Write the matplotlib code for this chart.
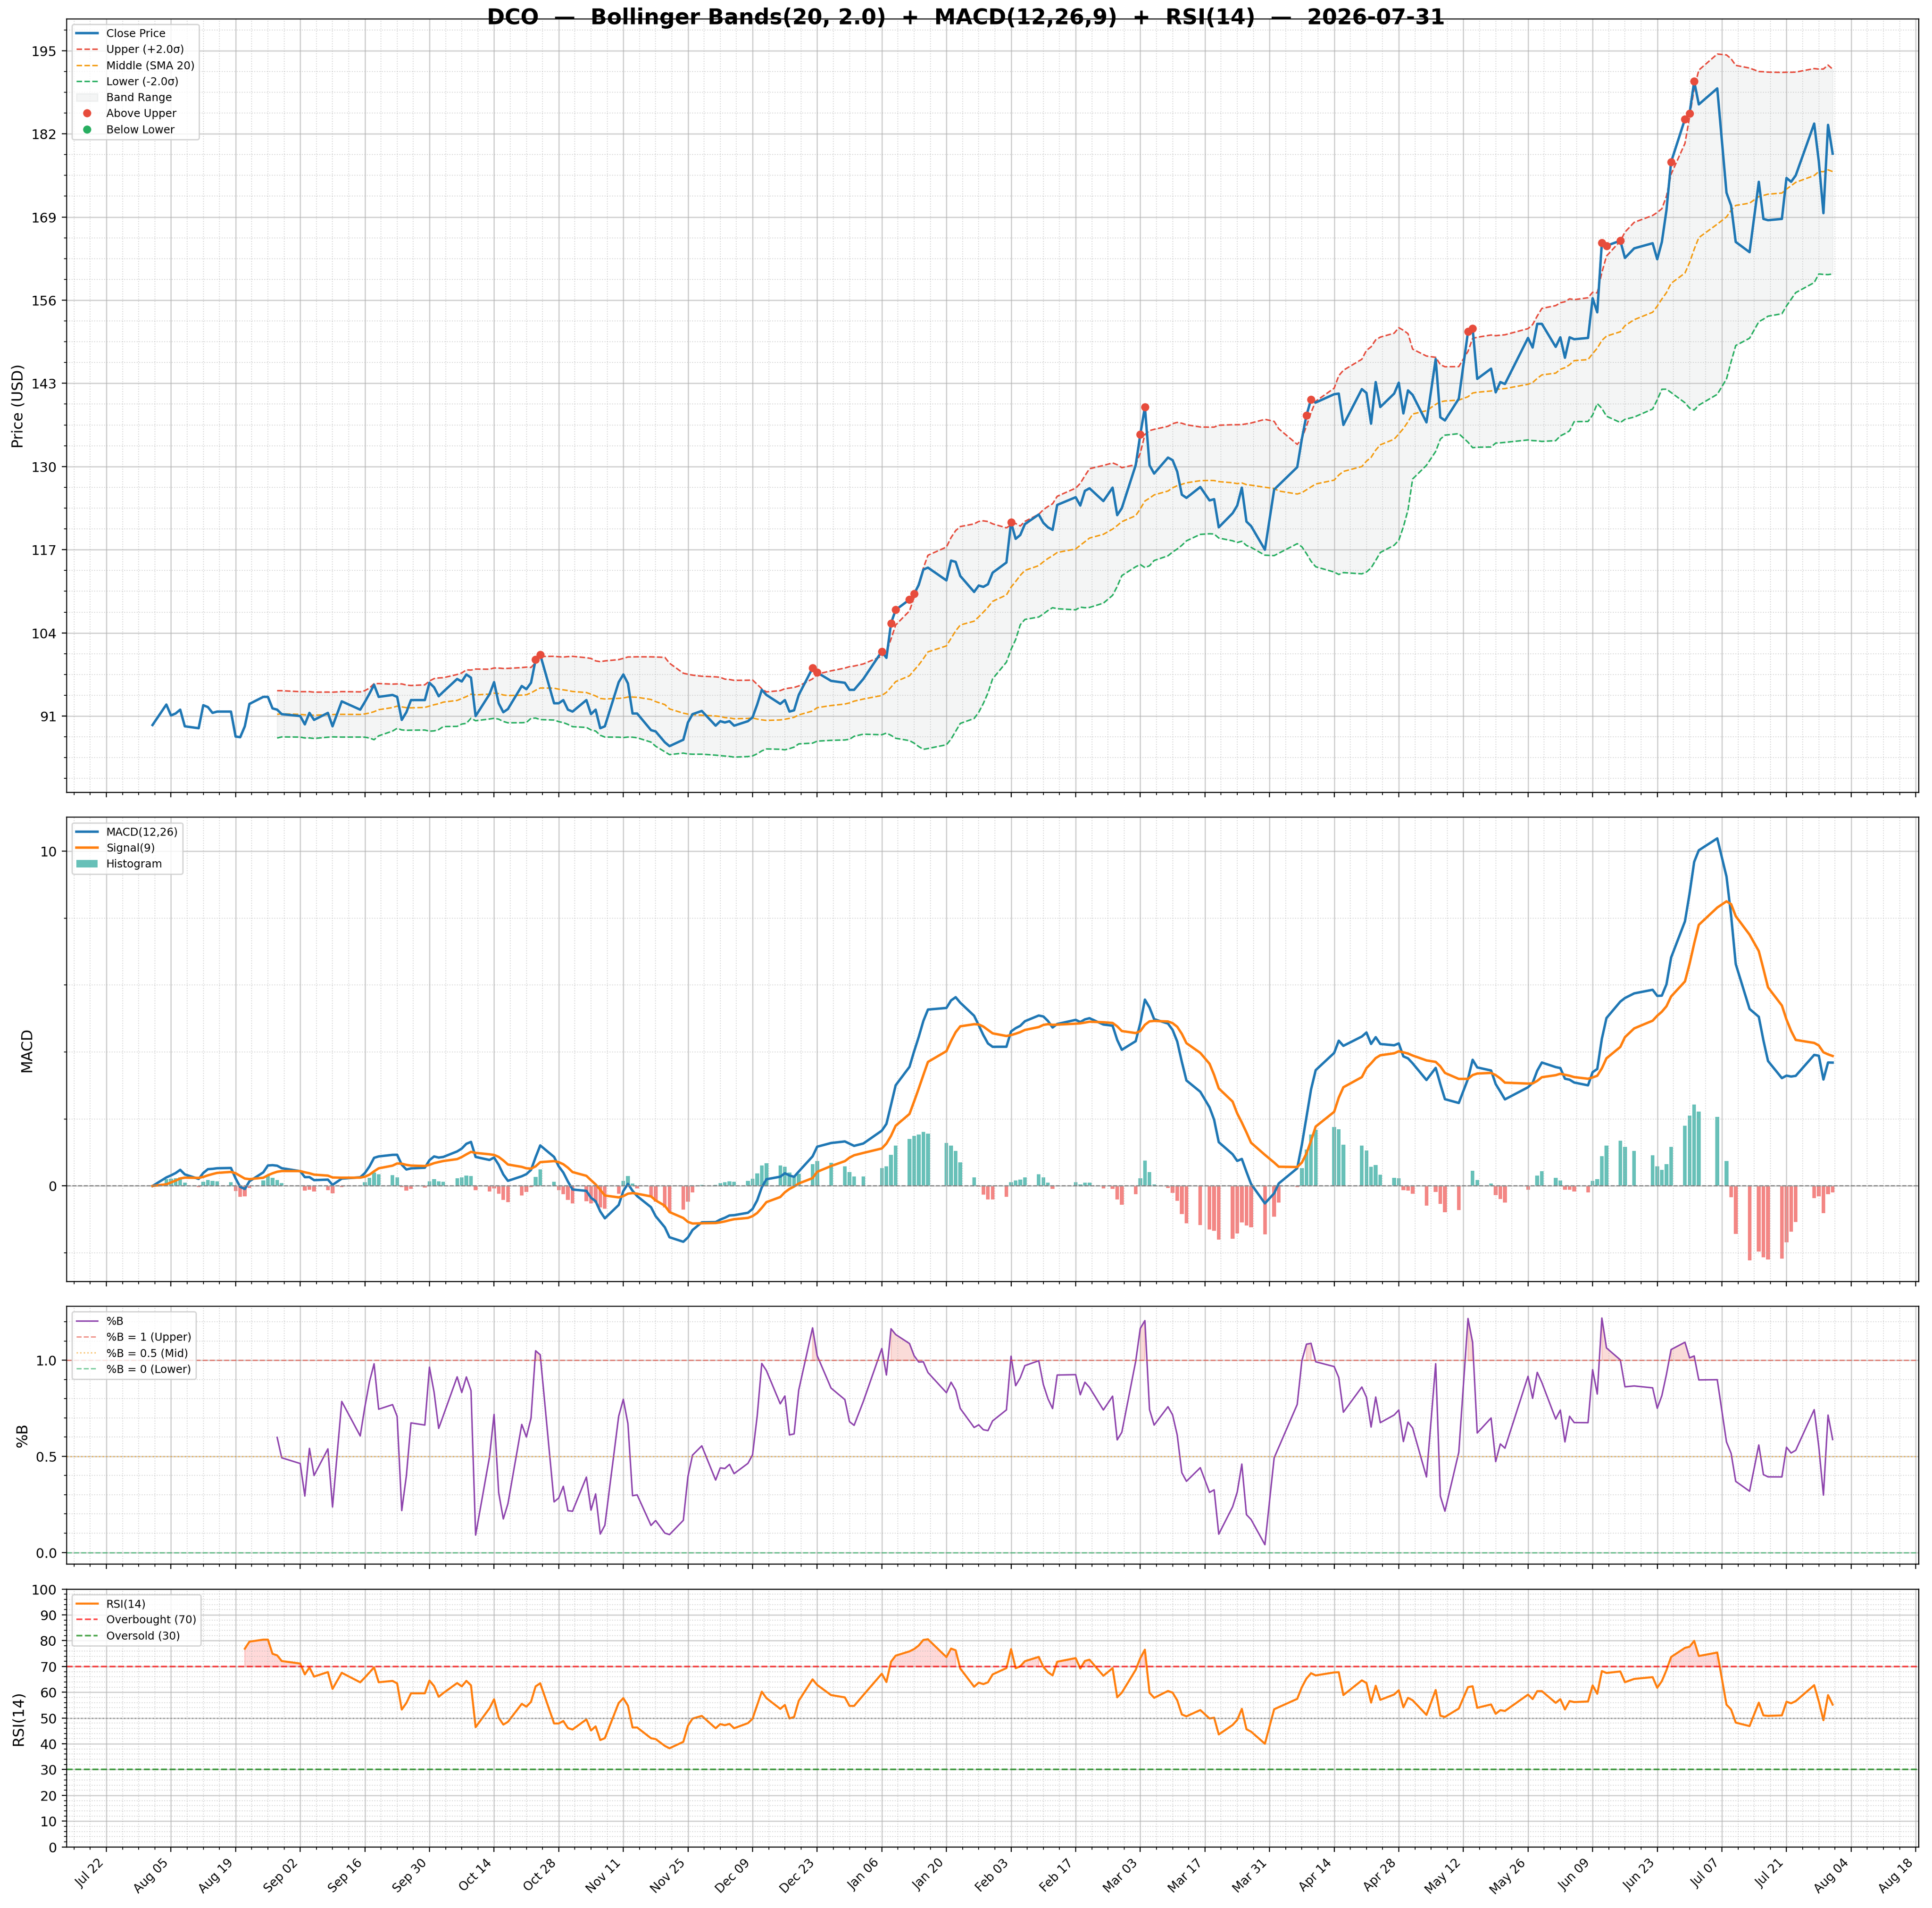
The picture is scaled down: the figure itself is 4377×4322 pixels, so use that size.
import numpy as np
import pandas as pd
import matplotlib
matplotlib.use("Agg")
import matplotlib.pyplot as plt
import matplotlib.dates as mdates
from matplotlib.ticker import AutoMinorLocator

ticker = "DCO"
as_of = "2026-07-31"

# trading days (gaps = days with no print)
dates = [
    "2025-08-01", "2025-08-04", "2025-08-05", "2025-08-06", "2025-08-07", "2025-08-08", "2025-08-11", "2025-08-12",
    "2025-08-13", "2025-08-14", "2025-08-15", "2025-08-18", "2025-08-19", "2025-08-20", "2025-08-21", "2025-08-22",
    "2025-08-25", "2025-08-26", "2025-08-27", "2025-08-28", "2025-08-29",
    "2025-09-02", "2025-09-03", "2025-09-04", "2025-09-05", "2025-09-08", "2025-09-09", "2025-09-11", "2025-09-15",
    "2025-09-16", "2025-09-17", "2025-09-18", "2025-09-19", "2025-09-22", "2025-09-23", "2025-09-24", "2025-09-25",
    "2025-09-26", "2025-09-29", "2025-09-30",
    "2025-10-01", "2025-10-02", "2025-10-03", "2025-10-06", "2025-10-07", "2025-10-08", "2025-10-09", "2025-10-10",
    "2025-10-13", "2025-10-14", "2025-10-15", "2025-10-16", "2025-10-17", "2025-10-20", "2025-10-21", "2025-10-22",
    "2025-10-23", "2025-10-24", "2025-10-27", "2025-10-28", "2025-10-29", "2025-10-30", "2025-10-31",
    "2025-11-03", "2025-11-04", "2025-11-05", "2025-11-06", "2025-11-07", "2025-11-10", "2025-11-11", "2025-11-12",
    "2025-11-13", "2025-11-14", "2025-11-17", "2025-11-18", "2025-11-20", "2025-11-21", "2025-11-24", "2025-11-25",
    "2025-11-26", "2025-11-28",
    "2025-12-01", "2025-12-02", "2025-12-03", "2025-12-04", "2025-12-05", "2025-12-08", "2025-12-09", "2025-12-10",
    "2025-12-11", "2025-12-12", "2025-12-15", "2025-12-16", "2025-12-17", "2025-12-18", "2025-12-19", "2025-12-22",
    "2025-12-23", "2025-12-26", "2025-12-29", "2025-12-30", "2025-12-31",
    "2026-01-02", "2026-01-06", "2026-01-07", "2026-01-08", "2026-01-09", "2026-01-12", "2026-01-13", "2026-01-14",
    "2026-01-15", "2026-01-16", "2026-01-20", "2026-01-21", "2026-01-22", "2026-01-23", "2026-01-26", "2026-01-27",
    "2026-01-28", "2026-01-29", "2026-01-30",
    "2026-02-02", "2026-02-03", "2026-02-04", "2026-02-05", "2026-02-06", "2026-02-09", "2026-02-10", "2026-02-11",
    "2026-02-12", "2026-02-13", "2026-02-17", "2026-02-18", "2026-02-19", "2026-02-20", "2026-02-23", "2026-02-25",
    "2026-02-26", "2026-02-27",
    "2026-03-02", "2026-03-03", "2026-03-04", "2026-03-05", "2026-03-06", "2026-03-09", "2026-03-10", "2026-03-11",
    "2026-03-12", "2026-03-13", "2026-03-16", "2026-03-18", "2026-03-19", "2026-03-20", "2026-03-23", "2026-03-24",
    "2026-03-25", "2026-03-26", "2026-03-27", "2026-03-30",
    "2026-04-01", "2026-04-02", "2026-04-06", "2026-04-07", "2026-04-08", "2026-04-09", "2026-04-10", "2026-04-14",
    "2026-04-15", "2026-04-16", "2026-04-20", "2026-04-21", "2026-04-22", "2026-04-23", "2026-04-24", "2026-04-27",
    "2026-04-28", "2026-04-29", "2026-04-30",
    "2026-05-01", "2026-05-04", "2026-05-06", "2026-05-07", "2026-05-08", "2026-05-11", "2026-05-13", "2026-05-14",
    "2026-05-15", "2026-05-18", "2026-05-19", "2026-05-20", "2026-05-21", "2026-05-26", "2026-05-27", "2026-05-28",
    "2026-05-29",
    "2026-06-01", "2026-06-02", "2026-06-03", "2026-06-04", "2026-06-05", "2026-06-08", "2026-06-09", "2026-06-10",
    "2026-06-11", "2026-06-12", "2026-06-15", "2026-06-16", "2026-06-18", "2026-06-22", "2026-06-23", "2026-06-24",
    "2026-06-25", "2026-06-26", "2026-06-29", "2026-06-30",
    "2026-07-01", "2026-07-02", "2026-07-06", "2026-07-08", "2026-07-09", "2026-07-10", "2026-07-13", "2026-07-15",
    "2026-07-16", "2026-07-17", "2026-07-20", "2026-07-21", "2026-07-22", "2026-07-23", "2026-07-27", "2026-07-28",
    "2026-07-29", "2026-07-30", "2026-07-31",
]

close = [
    89.6, 92.8, 91.1, 91.4, 92.0, 89.4, 89.1, 92.7, 92.4, 91.5, 91.7, 91.7, 87.8, 87.7, 89.4, 92.9,
    94.0, 94.0, 92.2, 92.0, 91.3,
    91.0, 89.7, 91.5, 90.4, 91.5, 89.4, 93.3, 92.0, 93.2, 94.5, 95.9, 94.0, 94.3, 94.0, 90.4, 91.6,
    93.5, 93.5, 96.2,
    95.5, 94.1, 94.8, 96.8, 96.4, 97.5, 97.0, 91.0, 94.4, 96.3, 93.0, 91.6, 92.1, 95.7, 95.2, 96.2,
    99.8, 100.6, 93.0, 93.0, 93.5, 92.0, 91.7,
    93.5, 91.3, 92.0, 89.1, 89.4, 96.3, 97.5, 96.1, 91.4, 91.4, 88.8, 88.6, 86.9, 86.3, 87.3, 90.0,
    91.3, 91.8,
    89.5, 90.2, 90.0, 90.2, 89.5, 90.2, 90.8, 92.8, 95.1, 94.3, 92.9, 93.5, 91.7, 91.9, 94.3, 98.5,
    97.8, 96.5, 96.2, 95.1, 95.1,
    96.8, 101.1, 100.1, 105.5, 107.6, 109.2, 110.1, 111.5, 113.9, 114.2, 112.2, 115.3, 115.1, 112.9, 110.4, 111.4,
    111.2, 111.6, 113.4,
    115.0, 121.3, 118.7, 119.3, 121.0, 122.5, 121.2, 120.5, 120.1, 124.0, 125.2, 123.9, 126.2, 126.6, 124.6, 126.7,
    122.4, 123.5,
    130.2, 135.0, 139.3, 130.2, 128.9, 131.4, 131.0, 129.2, 125.6, 125.1, 126.8, 124.7, 124.9, 120.5, 122.7, 123.9,
    126.7, 121.4, 120.7, 117.0,
    126.4, 127.1, 129.9, 134.3, 138.0, 140.5, 140.0, 141.3, 141.4, 136.5, 142.1, 141.5, 136.7, 143.2, 139.3, 141.4,
    143.1, 138.3, 141.9,
    141.2, 136.9, 146.8, 137.7, 137.2, 140.6, 151.1, 151.6, 143.7, 145.3, 141.6, 143.2, 142.9, 150.1, 148.6, 152.3,
    152.3,
    148.7, 150.2, 147.0, 150.2, 149.9, 150.1, 156.3, 154.1, 165.0, 164.5, 165.3, 162.6, 164.1, 164.9, 162.4, 165.1,
    170.1, 177.6, 184.3, 185.2,
    190.2, 186.6, 189.1, 172.8, 170.8, 165.1, 163.5, 174.5, 168.7, 168.5, 168.7, 175.1, 174.5, 175.5, 183.6, 177.7,
    169.6, 183.4, 178.9,
]

# ---- indicators ----
px = pd.Series(close, index=pd.to_datetime(dates))
x = px.index

mid = px.rolling(20).mean()
sd = px.rolling(20).std()
upper = mid + 2.0 * sd
lower = mid - 2.0 * sd
pct_b = (px - lower) / (upper - lower)

ema12 = px.ewm(span=12, adjust=False).mean()
ema26 = px.ewm(span=26, adjust=False).mean()
macd = ema12 - ema26
signal = macd.ewm(span=9, adjust=False).mean()
hist = macd - signal

# Wilder smoothing
delta = px.diff()
gain = delta.clip(lower=0).ewm(alpha=1 / 14, adjust=False, min_periods=14).mean()
loss = (-delta.clip(upper=0)).ewm(alpha=1 / 14, adjust=False, min_periods=14).mean()
rsi = 100 - 100 / (1 + gain / loss)

above = px > upper
below = px < lower

# ---- figure ----
DPI = 220
fig, axes = plt.subplots(4, 1, figsize=(4377.5 / DPI, 4322.5 / DPI), sharex=True,
                         gridspec_kw={"height_ratios": [3, 1.8, 1, 1], "hspace": 0.057})
fig.subplots_adjust(left=0.0344, right=0.993, top=0.990, bottom=0.032)
ax1, ax2, ax3, ax4 = axes

# price + bands
ax1.plot(x, px, color="#1f77b4", lw=1.8, label="Close Price", zorder=3)
ax1.plot(x, upper, color="#e74c3c", ls="--", lw=1.1, label="Upper (+2.0σ)")
ax1.plot(x, mid, color="#f39c12", ls="--", lw=1.1, label="Middle (SMA 20)")
ax1.plot(x, lower, color="#27ae60", ls="--", lw=1.1, label="Lower (-2.0σ)")
ax1.fill_between(x, lower, upper, color="#95a5a6", alpha=0.1, label="Band Range")
ax1.plot(x[above], px[above], "o", color="#e74c3c", ms=5, ls="none", label="Above Upper", zorder=5)
ax1.plot(x[below], px[below], "o", color="#27ae60", ms=5, ls="none", label="Below Lower", zorder=5)
ax1.set_yticks(np.arange(91, 196, 13))
ax1.set_ylabel("Price (USD)", fontsize=11)
ax1.legend(loc="upper left", fontsize=8, framealpha=0.8)

# MACD
bar_colors = np.where(hist >= 0, "#26a69a", "#ef5350")
ax2.plot(x, macd, color="#1f77b4", lw=1.8, label="MACD(12,26)")
ax2.plot(x, signal, color="#ff7f0e", lw=1.8, label="Signal(9)")
ax2.bar(x, hist, width=0.8, color=bar_colors, alpha=0.7, label="Histogram")
ax2.axhline(0, color="gray", ls="--", lw=0.8)
ax2.set_yticks([0, 10])
ax2.set_ylabel("MACD", fontsize=11)
ax2.legend(loc="upper left", fontsize=8, framealpha=0.8)

# %B
ax3.plot(x, pct_b, color="#8e44ad", lw=1.1, label="%B")
ax3.axhline(1.0, color="#e74c3c", ls="--", lw=1, alpha=0.6, label="%B = 1 (Upper)")
ax3.axhline(0.5, color="#f39c12", ls=":", lw=1, alpha=0.6, label="%B = 0.5 (Mid)")
ax3.axhline(0.0, color="#27ae60", ls="--", lw=1, alpha=0.6, label="%B = 0 (Lower)")
ax3.fill_between(x, pct_b, 1.0, where=pct_b > 1.0, color="#e74c3c", alpha=0.2)
ax3.fill_between(x, pct_b, 0.0, where=pct_b < 0.0, color="#27ae60", alpha=0.2)
ax3.set_yticks([0.0, 0.5, 1.0])
ax3.set_ylabel("%B", fontsize=11)
ax3.legend(loc="upper left", fontsize=8, framealpha=0.8)

# RSI
ax4.plot(x, rsi, color="#ff7f0e", lw=1.5, label="RSI(14)")
ax4.axhline(70, color="red", ls="--", lw=1.2, alpha=0.7, label="Overbought (70)")
ax4.axhline(30, color="green", ls="--", lw=1.2, alpha=0.7, label="Oversold (30)")
ax4.axhline(50, color="gray", ls=":", lw=1, alpha=0.7)
ax4.fill_between(x, rsi, 70, where=rsi > 70, color="red", alpha=0.15)
ax4.fill_between(x, rsi, 30, where=rsi < 30, color="green", alpha=0.15)
ax4.set_ylim(0, 100)
ax4.set_yticks(np.arange(0, 101, 10))
ax4.set_ylabel("RSI(14)", fontsize=11)
ax4.legend(loc="upper left", fontsize=8, framealpha=0.8)

xt = pd.date_range("2025-07-22", "2026-08-18", freq="14D")
for ax in axes:
    ax.set_xticks(xt)
    ax.xaxis.set_minor_locator(AutoMinorLocator())
    ax.yaxis.set_minor_locator(AutoMinorLocator())
    ax.grid(True, which="major", color="#b0b0b0", alpha=0.6, lw=0.9)
    ax.grid(True, which="minor", ls=":", color="#b0b0b0", alpha=0.5, lw=0.7)
    ax.tick_params(labelsize=10)
ax4.xaxis.set_major_formatter(mdates.DateFormatter("%b %d"))
plt.setp(ax4.get_xticklabels(), rotation=45, ha="right", fontsize=9)

fig.suptitle(f"{ticker}  —  Bollinger Bands(20, 2.0)  +  MACD(12,26,9)  +  RSI(14)  —  {as_of}",
             fontsize=16, fontweight="bold", y=0.9905, va="center")

fig.savefig("out.png", dpi=DPI)
